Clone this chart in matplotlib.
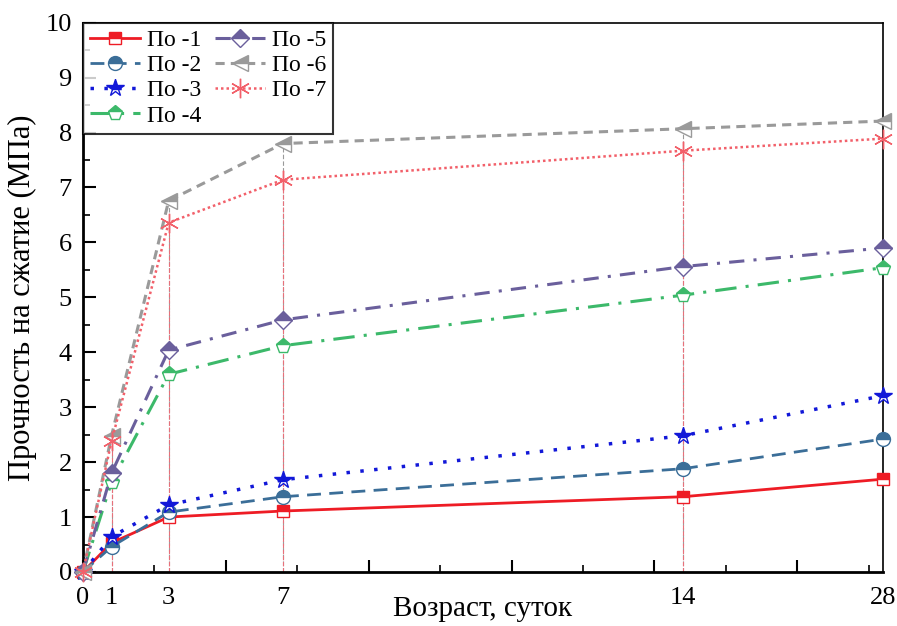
import matplotlib.pyplot as plt
import numpy as np
from matplotlib.ticker import MultipleLocator, NullFormatter

plt.rcParams['font.family'] = ['Liberation Serif', 'DejaVu Serif']

# положение точек на оси (линейная ось 0..28) и подписи под ними
x_pos = [0, 1, 3, 7, 21, 28]
x_labels = ['0', '1', '3', '7', '14', '28']

names = ['По -1', 'По -2', 'По -3', 'По -4', 'По -5', 'По -6', 'По -7']
po1 = [0, 0.53, 1.00, 1.11, 1.37, 1.69]
po2 = [0, 0.46, 1.09, 1.37, 1.88, 2.42]
po3 = [0, 0.64, 1.22, 1.68, 2.48, 3.21]
po4 = [0, 1.64, 3.60, 4.12, 5.04, 5.54]
po5 = [0, 1.80, 4.04, 4.59, 5.56, 5.90]
po6 = [0, 2.48, 6.76, 7.80, 8.07, 8.21]
po7 = [0, 2.38, 6.36, 7.14, 7.67, 7.89]
series = [po1, po2, po3, po4, po5, po6, po7]

colors = ['#ee1c25', '#3b6e98', '#1218d8', '#3cb96a', '#6a5f9c', '#9a9a9a', '#f2606a']
styles = ['-', (0, (5, 3)), (0, (1, 3)), (0, (7, 3, 1, 3)), (0, (5, 3, 1, 3)), (0, (3, 2)), (0, (1, 1.2))]
markers = ['s', 'o', '*', 'p', 'D', '<', (6, 2, 0)]
msizes = [9, 10, 13, 11, 9, 12, 14]
widths = [2, 2, 2.5, 2.2, 2.2, 2.2, 1.8]

fig = plt.figure(figsize=(8.97, 6.26), dpi=100)
ax = fig.add_axes([0.0925, 0.0863, 0.8919, 0.8774])

# вертикальные линии от точек к оси (видны только у верхних серий)
ax.vlines(x_pos[1:], 0, po6[1:], colors=colors[5], linestyles=(0, (4, 2)), lw=0.8, zorder=1)
ax.vlines(x_pos[1:], 0, po7[1:], colors='#e8707a', linestyles=(0, (4, 1.5)), lw=0.8, zorder=1)

for ys, nm, c, ls, mk, ms, lw in zip(series, names, colors, styles, markers, msizes, widths):
    if isinstance(mk, tuple):
        ax.plot(x_pos, ys, ls=ls, color=c, lw=lw, marker=mk, ms=ms, mew=1,
                label=nm, clip_on=False, zorder=3)
    else:
        ax.plot(x_pos, ys, ls=ls, color=c, lw=lw, marker=mk, ms=ms, mew=1,
                fillstyle='top', markerfacecoloralt='white', markeredgecolor=c,
                label=nm, clip_on=False, zorder=3)

ax.set_xlim(0, 28)
ax.set_ylim(0, 10)
ax.xaxis.set_major_locator(MultipleLocator(5))
ax.xaxis.set_minor_locator(MultipleLocator(2.5))
ax.xaxis.set_major_formatter(NullFormatter())
ax.yaxis.set_major_locator(MultipleLocator(1))
ax.yaxis.set_minor_locator(MultipleLocator(0.5))
ax.tick_params(which='major', direction='in', length=9, width=1.5, labelsize=19)
ax.tick_params(which='minor', direction='in', length=5, width=1.2)
ax.tick_params(axis='y', pad=8)

sec = ax.secondary_xaxis('bottom')
sec.set_xticks(x_pos, x_labels)
sec.tick_params(length=0, labelsize=19, pad=11)
sec.spines['bottom'].set_visible(False)

for s in ['left', 'bottom']:
    ax.spines[s].set_linewidth(2)
for s in ['top', 'right']:
    ax.spines[s].set_linewidth(1.2)

ax.set_xlabel('Возраст, суток', fontsize=21, labelpad=14)
ax.set_ylabel('Прочность на сжатие (МПа)', fontsize=22, labelpad=6)

leg = ax.legend(ncol=2, loc='upper left', fontsize=17, frameon=True, fancybox=False,
                edgecolor='black', borderaxespad=0, handlelength=2.1, handletextpad=0.3,
                columnspacing=0.6, labelspacing=0.15, borderpad=0.3)
leg.get_frame().set_linewidth(1.5)

fig.savefig('out.png', dpi=100)
